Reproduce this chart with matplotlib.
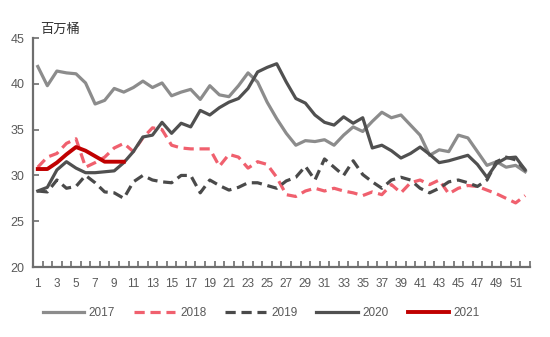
import matplotlib
matplotlib.use("Agg")
import matplotlib.pyplot as plt
import numpy as np

weeks = np.arange(1, 53)

stock_2017 = [41.9, 39.8, 41.4, 41.2, 41.1, 40.1, 37.8, 38.2, 39.5, 39.1,
              39.6, 40.3, 39.6, 40.1, 38.7, 39.1, 39.4, 38.3, 39.8, 38.8,
              38.6, 39.8, 41.2, 40.2, 38.0, 36.2, 34.6, 33.3, 33.8, 33.7,
              33.9, 33.3, 34.4, 35.3, 34.8, 35.9, 36.9, 36.3, 36.6, 35.5,
              34.4, 32.2, 32.8, 32.6, 34.4, 34.1, 32.6, 31.1, 31.5, 30.9,
              31.1, 30.4]
stock_2018 = [30.9, 32.0, 32.4, 33.5, 34.0, 30.9, 31.4, 32.0, 33.0, 33.5,
              32.6, 34.1, 35.2, 35.0, 33.3, 33.0, 32.9, 32.9, 32.9, 31.0,
              32.3, 32.0, 30.8, 31.5, 31.2, 29.8, 27.9, 27.7, 28.3, 28.6,
              28.3, 28.6, 28.3, 28.1, 27.8, 28.2, 27.9, 29.0, 28.1, 29.2,
              29.5, 29.0, 29.5, 28.0, 28.6, 28.9, 28.8, 28.4, 28.0, 27.5,
              27.0, 27.8]
stock_2019 = [28.3, 28.2, 29.5, 28.6, 28.8, 30.0, 29.2, 28.2, 28.1, 27.5,
              29.3, 30.0, 29.5, 29.3, 29.2, 30.0, 30.0, 28.1, 29.5, 28.9,
              28.4, 28.7, 29.2, 29.2, 28.9, 28.6, 29.4, 29.8, 31.0, 29.5,
              31.8, 30.9, 30.0, 31.6, 30.1, 29.3, 28.6, 29.5, 29.8, 29.5,
              28.6, 28.1, 28.6, 29.3, 29.5, 29.2, 28.8, 29.5, 31.5, 32.0,
              31.7, 30.6]
stock_2020 = [28.3, 28.7, 30.6, 31.5, 30.8, 30.3, 30.3, 30.4, 30.5, 31.4,
              32.6, 34.2, 34.4, 35.8, 34.6, 35.7, 35.3, 37.1, 36.6, 37.4,
              38.0, 38.4, 39.5, 41.3, 41.8, 42.2, 40.2, 38.4, 37.9, 36.6,
              35.8, 35.5, 36.4, 35.7, 36.3, 33.0, 33.3, 32.7, 31.9, 32.4,
              33.1, 32.3, 31.4, 31.6, 31.9, 32.2, 31.2, 29.8, 31.3, 31.9,
              32.0, 30.6]
stock_2021 = [30.7, 30.7, 31.4, 32.3, 33.1, 32.7, 32.1, 31.5, 31.5, 31.5]

year_labels = ["2017", "2018", "2019", "2020", "2021"]
unit_label = "百万桶"

plt.rcParams["font.family"] = ["Liberation Sans", "DejaVu Sans"]

fig = plt.figure(figsize=(5.5, 3.37), dpi=100)
ax = fig.add_axes([0.06, 0.2077, 0.9036, 0.6793])

lw = 2.3
dash = (3.2, 1.8)
ax.plot(weeks, stock_2017, color="#8c8c8c", lw=lw, label=year_labels[0],
        solid_joinstyle="round")
ax.plot(weeks, stock_2018, color="#f0606e", lw=lw, ls=(0, dash),
        label=year_labels[1])
ax.plot(weeks, stock_2019, color="#4a4a4a", lw=lw, ls=(0, dash),
        label=year_labels[2])
ax.plot(weeks, stock_2020, color="#505050", lw=lw, label=year_labels[3],
        solid_joinstyle="round")
ax.plot(weeks[:len(stock_2021)], stock_2021, color="#c00000", lw=2.8,
        label=year_labels[4], solid_joinstyle="round")

ax.set_xlim(0.5, 52.5)
ax.set_ylim(20, 45)
ax.set_yticks([20, 25, 30, 35, 40, 45])
ax.set_xticks(np.arange(1, 52, 2))
ax.set_xticks(np.arange(0.5, 53, 1), minor=True)

axis_color = "#6e6e6e"
text_color = "#595959"
for side in ["top", "right"]:
    ax.spines[side].set_visible(False)
for side in ["left", "bottom"]:
    ax.spines[side].set_color(axis_color)
    ax.spines[side].set_linewidth(1.6)

ax.tick_params(axis="x", which="major", length=0, pad=8,
               labelsize=8.5, labelcolor=text_color)
ax.tick_params(axis="x", which="minor", direction="in", length=4,
               width=1.2, color=axis_color)
ax.tick_params(axis="y", direction="in", length=4, width=1.2,
               color=axis_color, labelsize=9, labelcolor=text_color, pad=6)

fig.text(40 / 550, 1 - 29 / 337, unit_label, fontsize=9.5, color="#333333",
         ha="left", va="center",
         family=["Noto Sans CJK SC", "DejaVu Sans"])

leg = fig.legend(loc="center", bbox_to_anchor=(0.475, 1 - 313 / 337),
                 ncol=5, frameon=False, fontsize=8.5, handlelength=3.5,
                 handletextpad=0.4, columnspacing=1.6)
for t in leg.get_texts():
    t.set_color(text_color)

fig.savefig("out.png", dpi=100)
